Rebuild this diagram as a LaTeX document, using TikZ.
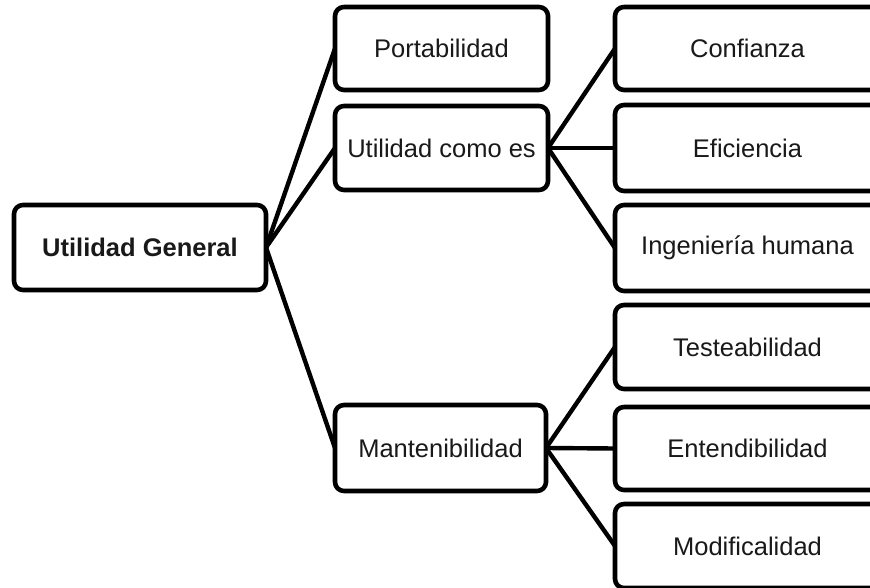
\documentclass[tikz,border=0pt]{standalone}
\usepackage{fontspec}
\setmainfont{Liberation Sans}
\begin{document}
\begin{tikzpicture}[x=1pt,y=-1pt,
  box/.style={draw=black,line width=4.6pt,rounded corners=9pt,inner sep=0pt,outer sep=0pt,
    font=\fontsize{25.5}{30}\selectfont,text=black!90},
  link/.style={line width=4.4pt,draw=black}]
\clip (0,0) rectangle (870,588);
\fill[white] (0,0) rectangle (870,588);
% root
\node[box,minimum width=252pt,minimum height=85pt,font=\fontsize{25.5}{30}\selectfont\bfseries] (root) at (140,247.5) {Utilidad General};
% second level
\node[box,minimum width=213pt,minimum height=83pt] (port) at (441.5,48.5) {Portabilidad};
\node[box,minimum width=213pt,minimum height=84pt] (util) at (441.5,148) {Utilidad como es};
\node[box,minimum width=211pt,minimum height=86pt] (mant) at (440.5,448) {Mantenibilidad};
% third level
\node[box,minimum width=265pt,minimum height=83pt] (conf) at (747.5,48.5) {Confianza};
\node[box,minimum width=265pt,minimum height=86pt] (efic) at (747.5,148) {Eficiencia};
\node[box,minimum width=265pt,minimum height=86pt] (inge) at (747.5,248) {Ingeniería humana};
\node[box,minimum width=265pt,minimum height=84pt] (test) at (747.5,347) {Testeabilidad};
\node[box,minimum width=265pt,minimum height=83pt] (ente) at (747.5,448.5) {Entendibilidad};
\node[box,minimum width=265pt,minimum height=84pt] (modi) at (747.5,546) {Modificalidad};
% connectors
\draw[link] (root.east) -- (port.west);
\draw[link] (root.east) -- (util.west);
\draw[link] (root.east) -- (mant.west);
\draw[link] (util.east) -- (conf.west);
\draw[link] (util.east) -- (efic.west);
\draw[link] (util.east) -- (inge.west);
\draw[link] (mant.east) -- (test.west);
\draw[link] (mant.east) -- (ente.west);
\draw[link] (mant.east) -- (modi.west);
\end{tikzpicture}
\end{document}
